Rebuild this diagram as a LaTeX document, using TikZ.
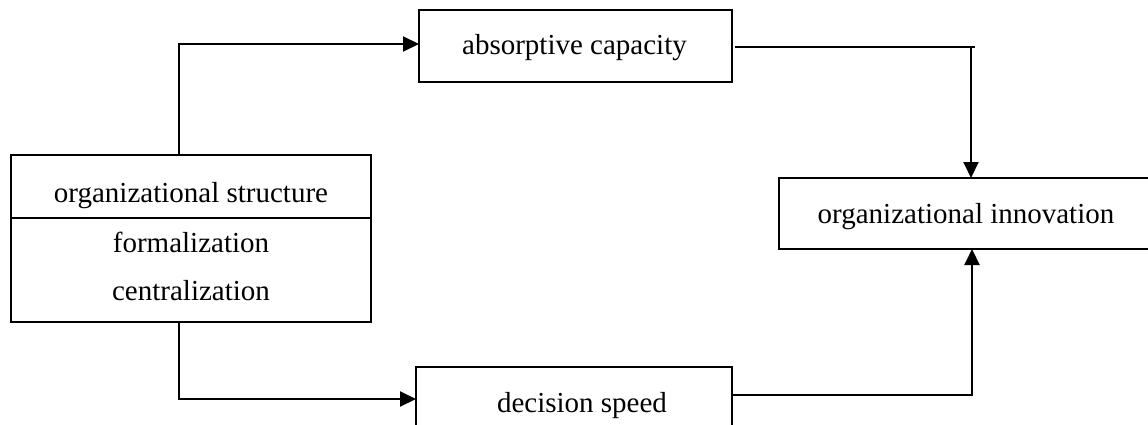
\documentclass[tikz,border=0pt]{standalone}
\usepackage{fontspec}
\setmainfont{Liberation Serif}
\usetikzlibrary{arrows.meta}
\tikzset{
  boxnode/.style={draw, line width=1.8pt, minimum width=#1, inner sep=0pt, outer sep=0pt},
  lbl/.style={font=\fontsize{29}{34}\selectfont, anchor=base, inner sep=0pt},
  conn/.style={line width=2pt},
  arr/.style={conn, -{Triangle[length=16pt,width=15pt]}}
}
\begin{document}
\begin{tikzpicture}[x=1pt,y=-1pt]
\useasboundingbox (0,0) rectangle (1148,425);
\clip (0,0) rectangle (1148,425);
% boxes
\node[boxnode=360pt, minimum height=167pt] (L) at (191,238.5) {};
\node[boxnode=313pt, minimum height=72pt] (A) at (575.5,46) {};
\node[boxnode=374pt, minimum height=71pt] (I) at (966,213.5) {};
\node[boxnode=316pt, minimum height=73pt] (D) at (574,403.5) {};
% divider in left box
\coordinate (div) at (0,218);
\draw[line width=1.8pt] (L.west |- div) -- (L.east |- div);
% labels
\node[lbl] (t1) at (191,202) {organizational structure};
\node[lbl] (t2) at (191,252) {formalization};
\node[lbl] (t3) at (191,300) {centralization};
\node[lbl] (t4) at (574.5,55) {absorptive capacity};
\node[lbl] (t5) at (966,223) {organizational innovation};
\node[lbl] (t6) at (582,412) {decision speed};
% connectors
\coordinate (c1) at (179,44);
\coordinate (c2) at (971,47);
\coordinate (c2e) at (975,47);
\coordinate (c3) at (179,399);
\coordinate (c4) at (972,395);
\draw[arr] (c1 |- L.north) |- (A.west |- c1);
\draw[conn] ([xshift=3pt]A.east |- c2) -- (c2e);
\draw[arr] (c2) -- (I.north -| c2);
\draw[arr] (c3 |- L.south) |- (D.west |- c3);
\draw[arr] (D.east |- c4) -| (I.south -| c4);
\end{tikzpicture}
\end{document}
